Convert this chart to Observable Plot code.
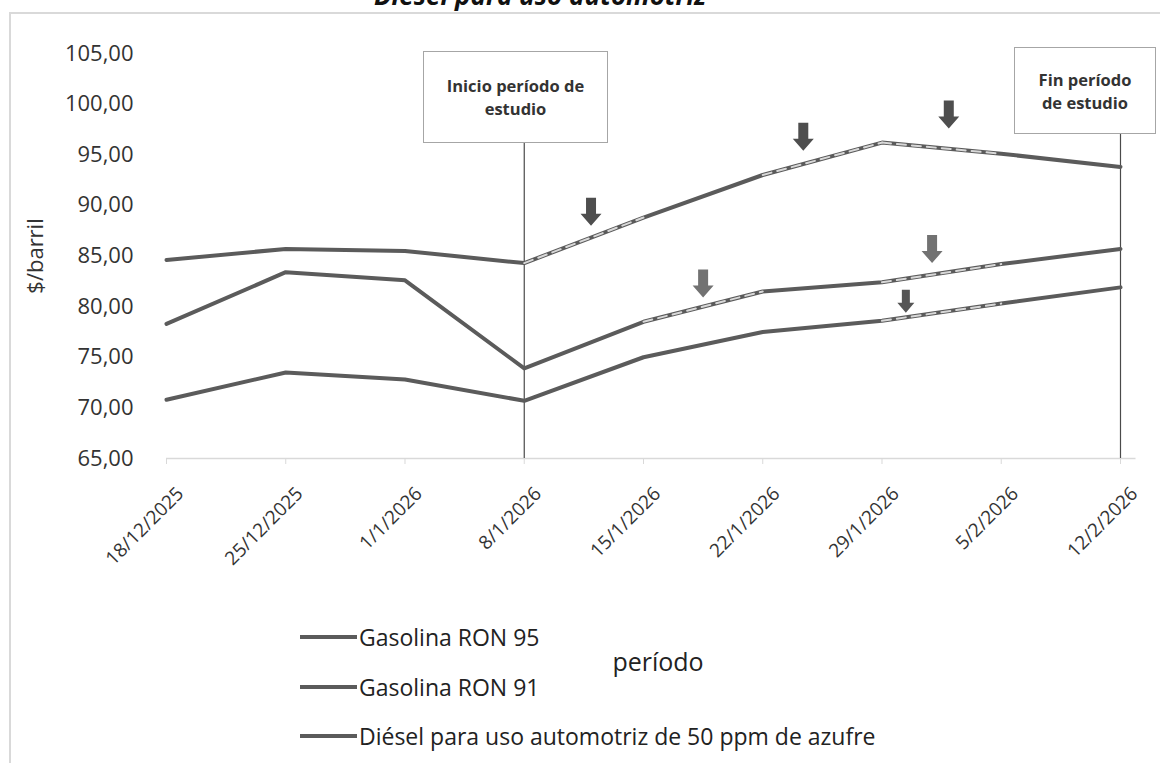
<!DOCTYPE html>
<html><head><meta charset="utf-8">
<script src="https://cdn.jsdelivr.net/npm/d3@7"></script>
<script src="https://cdn.jsdelivr.net/npm/@observablehq/plot@0.6"></script>
<style>
body{margin:0;background:#fff;}
#wrap{position:relative;width:1160px;height:763px;overflow:hidden;font-family:"Open Sans",sans-serif;color:#333;background:#fff;}
#title{position:absolute;left:0;width:1080px;top:-20px;text-align:center;font-weight:bold;font-style:italic;font-size:26px;line-height:30px;color:#111;}
#frame{position:absolute;left:9px;top:12px;width:1200px;height:800px;border-left:2px solid #d9d9d9;border-top:2px solid #d9d9d9;}
#chart{position:absolute;left:0;top:0;}
.box{position:absolute;background:#fff;border:1px solid #a6a6a6;box-sizing:border-box;font-weight:bold;font-size:16.5px;color:#333;text-align:center;display:flex;align-items:center;justify-content:center;line-height:23px;}
.leg{position:absolute;left:300px;height:30px;display:flex;align-items:center;font-size:23px;color:#222;}
.leg span.sw{display:inline-block;width:57px;height:4px;background:#5b5b5b;margin-right:2px;}
#xlabel{position:absolute;left:558px;width:200px;top:644px;text-align:center;font-size:25px;color:#222;}
</style></head><body>
<div id="wrap">
  <div id="title">Diésel para uso automotriz</div>
  <div id="frame"></div>
  <div id="chart"></div>
  <div class="box" style="left:423px;top:51px;width:185px;height:92px;">Inicio período de<br>estudio</div>
  <div class="box" style="left:1014px;top:47px;width:142px;height:87px;">Fin período<br>de estudio</div>
  <div id="legend"></div>
  <div id="xlabel">período</div>
</div>
<script>
// ---- data ----
const dates = ["18/12/2025","25/12/2025","1/1/2026","8/1/2026","15/1/2026","22/1/2026","29/1/2026","5/2/2026","12/2/2026"];
const seriesNames = ["Gasolina RON 95","Gasolina RON 91","Diésel para uso automotriz de 50 ppm de azufre"];
const ron95  = [78.3, 83.4, 82.6, 73.9, 78.5, 81.5, 82.4, 84.2, 85.7];
const ron91  = [70.8, 73.5, 72.8, 70.7, 75.0, 77.5, 78.6, 80.3, 81.9];
const diesel = [84.6, 85.7, 85.5, 84.3, 88.8, 93.0, 96.2, 95.1, 93.8];
const yTicks = [65, 70, 75, 80, 85, 90, 95, 100, 105];
// segments highlighted (index of start date -> end date)
const highlighted = [
  {series: seriesNames[2], from: 3, to: 4},
  {series: seriesNames[2], from: 5, to: 6},
  {series: seriesNames[2], from: 6, to: 7},
  {series: seriesNames[0], from: 4, to: 5},
  {series: seriesNames[0], from: 6, to: 7},
  {series: seriesNames[1], from: 6, to: 7}
];
// downward arrows (date position as fractional index, price at arrow tip)
const arrows = [
  {series: seriesNames[2], at: 3.56, price: 88.0},
  {series: seriesNames[2], at: 5.34, price: 95.4},
  {series: seriesNames[2], at: 6.56, price: 97.6},
  {series: seriesNames[0], at: 4.50, price: 80.9},
  {series: seriesNames[0], at: 6.42, price: 84.3},
  {series: seriesNames[1], at: 6.20, price: 79.4}
];
// study period markers (date index, price where the marker line meets the label box)
const studyMarks = [{at: 3, top: 96.2}, {at: 8, top: 97.1}];

// ---- build ----
const valuesBySeries = {[seriesNames[0]]: ron95, [seriesNames[1]]: ron91, [seriesNames[2]]: diesel};
const rows = seriesNames.flatMap(s => valuesBySeries[s].map((v, i) => ({series: s, i, value: v})));
const dashRows = highlighted.flatMap((h, k) => [h.from, h.to].map(i => ({seg: k, i, value: valuesBySeries[h.series][i]})));
const arrowColor = {[seriesNames[0]]: "#727272", [seriesNames[1]]: "#555555", [seriesNames[2]]: "#4e4e4e"};

function makeArrow(sw, hw, hl) {
  return {
    draw(context, l) {
      context.moveTo(-sw / 2, 0);
      context.lineTo(sw / 2, 0);
      context.lineTo(sw / 2, -(l - hl));
      context.lineTo(hw / 2, -(l - hl));
      context.lineTo(0, -l);
      context.lineTo(-hw / 2, -(l - hl));
      context.lineTo(-sw / 2, -(l - hl));
      context.closePath();
    }
  };
}

const xTicks = d3.range(dates.length);
const chart = Plot.plot({
  width: 1160, height: 580,
  marginLeft: 166, marginRight: 24.5, marginTop: 53, marginBottom: 122,
  x: {type: "linear", domain: [0, 8.13]},
  y: {domain: [65, 105]},
  style: {fontFamily: "Open Sans, sans-serif", fontSize: "22px", color: "#333", background: "transparent", overflow: "visible"},
  marks: [
    Plot.ruleY([65], {stroke: "#d9d9d9", strokeWidth: 1.5}),
    Plot.axisX({ticks: xTicks, tickFormat: () => "", tickSize: 6, stroke: "#d9d9d9", label: null}),
    Plot.axisX({ticks: xTicks, tickFormat: i => dates[i], tickRotate: -45, tickSize: 0, tickPadding: 32, dx: 14, fill: "#333", label: null, fontSize: 19}),
    Plot.axisY({ticks: yTicks, tickFormat: d => d.toFixed(2).replace(".", ","), tickSize: 0, tickPadding: 33, label: "$/barril", labelAnchor: "center", labelArrow: "none", labelOffset: 139, fill: "#333"}),
    Plot.ruleX(studyMarks, {x: "at", y1: 65, y2: "top", stroke: "#4a4a4a", strokeWidth: 1.2}),
    Plot.line(rows, {x: "i", y: "value", z: "series", stroke: "#5b5b5b", strokeWidth: 4}),
    Plot.line(dashRows, {x: "i", y: "value", z: "seg", stroke: "#d8d8d8", strokeWidth: 2, strokeDasharray: "9,6"}),
    Plot.vector(arrows, {filter: d => d.series !== seriesNames[1], x: "at", y: "price", length: 28, rotate: 180, anchor: "end", shape: makeArrow(10, 21, 12), fill: d => arrowColor[d.series], stroke: "none"}),
    Plot.vector(arrows, {filter: d => d.series === seriesNames[1], x: "at", y: "price", length: 23, rotate: 180, anchor: "end", shape: makeArrow(8, 17, 10), fill: d => arrowColor[d.series], stroke: "none"})
  ]
});
document.getElementById("chart").append(chart);

// legend
const legendTops = [622, 672, 721];
const legend = document.getElementById("legend");
seriesNames.forEach((s, k) => {
  const row = document.createElement("div");
  row.className = "leg";
  row.style.top = legendTops[k] + "px";
  row.innerHTML = '<span class="sw"></span>' + s;
  legend.append(row);
});
</script>
</body></html>
